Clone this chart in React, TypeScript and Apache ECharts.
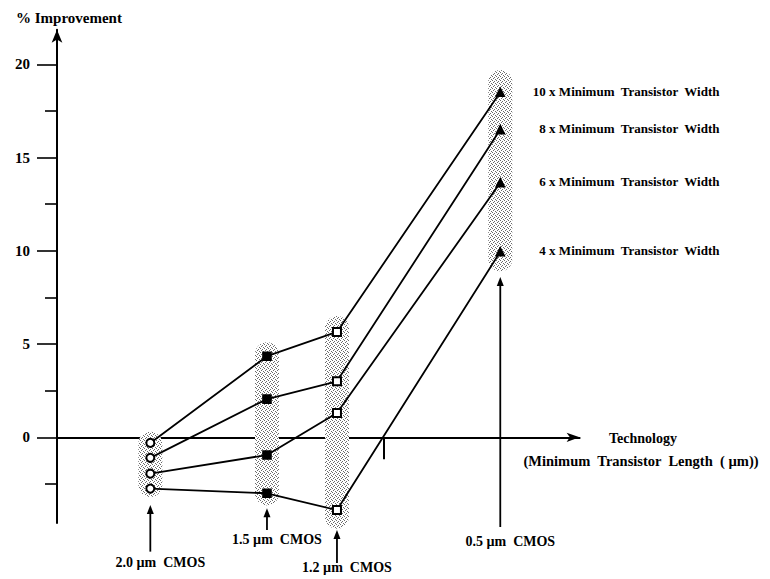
import React, { useEffect, useRef } from "react";
import * as echarts from "echarts";

// Technology nodes (minimum transistor length, µm)
const techLengths = [2.0, 1.5, 1.2, 0.5];
const techLabels = ["2.0 µm  CMOS", "1.5 µm  CMOS", "1.2 µm  CMOS", "0.5 µm  CMOS"];

// % improvement per transistor width multiple
const seriesNames = [
  "10 x Minimum  Transistor  Width",
  "8 x Minimum  Transistor  Width",
  "6 x Minimum  Transistor  Width",
  "4 x Minimum  Transistor  Width",
];
const w10 = [-0.3, 4.35, 5.65, 18.5];
const w8 = [-1.1, 2.05, 3.0, 16.5];
const w6 = [-1.95, -0.95, 1.3, 13.65];
const w4 = [-2.75, -3.0, -3.9, 9.95];
const seriesValues = [w10, w8, w6, w4];
const pointSymbols = ["emptyCircle", "rect", "emptyRect", "triangle"];

// shaded groups (data units)
const shadeTop = [0.3, 5.1, 6.5, 19.7];
const shadeBottom = [-3.2, -3.65, -4.9, 8.9];

// pointer arrows under each technology (data units)
const arrowTip = [-3.63, -3.8, -4.97, 8.6];
const arrowBase = [-6.13, -4.97, -6.74, -4.81];
const labelLevel = [-6.69, -5.5, -7.0, -5.6];

// axis ticks
const yTickLabels = [0, 5, 10, 15, 20];
const yMinorTicks = [-2.5, 2.5, 7.5, 12.5, 17.5];
const xTicks = [1.5, 1.0];

const FONT = '"Liberation Serif", "Times New Roman", serif';

function makeStipple(): any {
  try {
    const c = document.createElement("canvas");
    c.width = 4;
    c.height = 4;
    const ctx = c.getContext("2d");
    if (!ctx) return "#d9d9d9";
    ctx.fillStyle = "#ffffff";
    ctx.fillRect(0, 0, 4, 4);
    ctx.fillStyle = "#6a6a6a";
    ctx.fillRect(0, 0, 1, 1);
    ctx.fillRect(2, 1, 1, 1);
    ctx.fillRect(1, 2, 1, 1);
    ctx.fillRect(3, 3, 1, 1);
    return { image: c, repeat: "repeat" };
  } catch (e) {
    return "#d9d9d9";
  }
}

export default function App() {
  const ref = useRef<HTMLDivElement>(null);
  useEffect(() => {
    const chart = echarts.init(ref.current!, null, { renderer: "svg" });
    const stipple = makeStipple();

    const lineSeries = seriesNames.map((name, si) => ({
      type: "line",
      name,
      z: 3,
      symbolSize: 8,
      lineStyle: { color: "#000", width: 1.8 },
      itemStyle: { color: "#000", borderColor: "#000", borderWidth: 1.6 },
      data: techLengths.map((L, i) => ({
        value: [L, seriesValues[si][i]],
        symbol: pointSymbols[i],
        label:
          i === techLengths.length - 1
            ? {
                show: true,
                formatter: name,
                position: [224, 4],
                align: "right",
                verticalAlign: "middle",
                fontFamily: FONT,
                fontWeight: "bold",
                fontSize: 13,
                color: "#000",
              }
            : { show: false },
      })),
    }));

    const option: any = {
      animation: false,
      backgroundColor: "#fff",
      grid: {
        left: 57,
        right: 190.4,
        top: 29.8,
        bottom: 55.9,
        outerBoundsMode: "none",
      },
      xAxis: {
        type: "value",
        inverse: true,
        min: 0.16,
        max: 2.4,
        axisLine: {
          onZero: true,
          symbol: ["none", "arrow"],
          symbolSize: [7, 13],
          lineStyle: { color: "#000", width: 2 },
        },
        axisTick: {
          show: true,
          customValues: xTicks,
          length: 22,
          lineStyle: { color: "#000", width: 2 },
        },
        axisLabel: { show: false },
        splitLine: { show: false },
      },
      yAxis: [
        {
          type: "value",
          min: -4.6,
          max: 21.85,
          position: "left",
          axisLine: {
            show: true,
            onZero: false,
            symbol: ["none", "arrow"],
            symbolSize: [8, 13],
            lineStyle: { color: "#000", width: 2 },
          },
          axisTick: {
            show: true,
            customValues: yTickLabels,
            length: 20,
            lineStyle: { color: "#000", width: 1.6 },
          },
          axisLabel: {
            customValues: yTickLabels,
            margin: 27,
            fontFamily: FONT,
            fontWeight: "bold",
            fontSize: 15,
            color: "#000",
          },
          splitLine: { show: false },
        },
        {
          type: "value",
          min: -4.6,
          max: 21.85,
          position: "left",
          axisLine: { show: false, onZero: false },
          axisTick: {
            show: true,
            customValues: yMinorTicks,
            length: 12,
            lineStyle: { color: "#000", width: 1.6 },
          },
          axisLabel: { show: false },
          splitLine: { show: false },
        },
      ],
      series: [
        {
          type: "custom",
          z: 1,
          silent: true,
          clip: false,
          data: techLengths.map((L, i) => [L, shadeTop[i], shadeBottom[i]]),
          renderItem: (params: any, api: any) => {
            const top = api.coord([api.value(0), api.value(1)]);
            const bot = api.coord([api.value(0), api.value(2)]);
            const w = 24;
            return {
              type: "rect",
              shape: { x: top[0] - w / 2, y: top[1], width: w, height: bot[1] - top[1], r: w / 2 },
              style: { fill: stipple },
            };
          },
        },
        ...lineSeries,
        {
          type: "custom",
          z: 4,
          silent: true,
          clip: false,
          data: techLengths.map((L, i) => [L, arrowTip[i], arrowBase[i], labelLevel[i]]),
          renderItem: (params: any, api: any) => {
            const tip = api.coord([api.value(0), api.value(1)]);
            const base = api.coord([api.value(0), api.value(2)]);
            const lab = api.coord([api.value(0), api.value(3)]);
            const hl = 9;
            const hw = 3.5;
            return {
              type: "group",
              children: [
                {
                  type: "line",
                  shape: { x1: base[0], y1: base[1], x2: tip[0], y2: tip[1] + hl - 1 },
                  style: { stroke: "#000", lineWidth: 1.8 },
                },
                {
                  type: "polygon",
                  shape: {
                    points: [
                      [tip[0], tip[1]],
                      [tip[0] - hw, tip[1] + hl],
                      [tip[0] + hw, tip[1] + hl],
                    ],
                  },
                  style: { fill: "#000" },
                },
                {
                  type: "text",
                  x: lab[0] + 10,
                  y: lab[1],
                  style: {
                    text: techLabels[params.dataIndex],
                    align: "center",
                    verticalAlign: "middle",
                    font: `bold 14px ${FONT}`,
                    fill: "#000",
                  },
                },
              ],
            };
          },
        },
      ],
      graphic: [
        {
          type: "text",
          left: 16,
          top: 10,
          style: { text: "% Improvement", font: `bold 15px ${FONT}`, fill: "#000" },
        },
        {
          type: "text",
          x: 643,
          y: 438,
          style: {
            text: "Technology",
            align: "center",
            verticalAlign: "middle",
            font: `bold 14px ${FONT}`,
            fill: "#000",
          },
        },
        {
          type: "text",
          x: 641,
          y: 461,
          style: {
            text: "(Minimum  Transistor  Length  ( µm))",
            align: "center",
            verticalAlign: "middle",
            font: `bold 14.5px ${FONT}`,
            fill: "#000",
          },
        },
      ],
    };

    chart.setOption(option);
    return () => chart.dispose();
  }, []);

  return (
    <div
      ref={ref}
      style={{ position: "absolute", left: 0, top: 0, width: 770, height: 579, background: "#fff" }}
    />
  );
}
